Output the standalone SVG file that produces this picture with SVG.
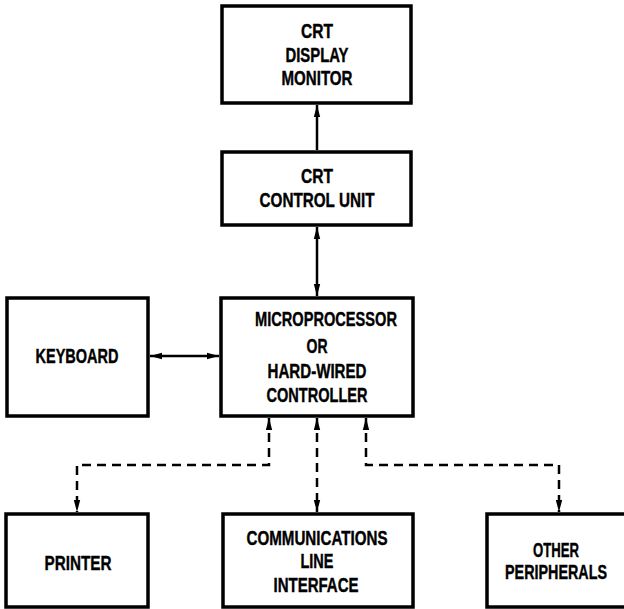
<svg xmlns="http://www.w3.org/2000/svg" width="624" height="609" viewBox="0 0 624 609">
<defs>
<style>
.box{fill:#fff;stroke:#000;stroke-width:3.5}
.t{font-family:"Liberation Sans Narrow","Liberation Sans",Arial,sans-serif;font-weight:bold;font-size:20px;fill:#000;stroke:#000;stroke-width:0.4;text-anchor:middle}
.ln{fill:none;stroke:#000;stroke-width:2.5}
.dash{fill:none;stroke:#000;stroke-width:2.5;stroke-dasharray:9 6}
</style>
<marker id="ah" viewBox="0 0 12 8" refX="12" refY="4" markerWidth="12" markerHeight="8" markerUnits="userSpaceOnUse" orient="auto-start-reverse">
<path d="M0,0.8 L12,4 L0,7.2 Z" fill="#000"/>
</marker>
</defs>
<rect width="624" height="609" fill="#fff"/>
<g id="crt-monitor">
<rect class="box" x="222" y="6" width="189" height="97"/>
<text class="t" x="317" y="38" textLength="32" lengthAdjust="spacingAndGlyphs">CRT</text>
<text class="t" x="317" y="62" textLength="63" lengthAdjust="spacingAndGlyphs">DISPLAY</text>
<text class="t" x="317" y="85" textLength="71" lengthAdjust="spacingAndGlyphs">MONITOR</text>
</g>
<g id="crt-control">
<rect class="box" x="222" y="152" width="189" height="73"/>
<text class="t" x="317" y="183" textLength="32" lengthAdjust="spacingAndGlyphs">CRT</text>
<text class="t" x="317" y="207" textLength="115" lengthAdjust="spacingAndGlyphs">CONTROL UNIT</text>
</g>
<g id="micro">
<rect class="box" x="221" y="298" width="192" height="118"/>
<text class="t" x="326" y="326" textLength="142" lengthAdjust="spacingAndGlyphs">MICROPROCESSOR</text>
<text class="t" x="317" y="353" textLength="21" lengthAdjust="spacingAndGlyphs">OR</text>
<text class="t" x="317" y="378" textLength="99" lengthAdjust="spacingAndGlyphs">HARD-WIRED</text>
<text class="t" x="317" y="402" textLength="101" lengthAdjust="spacingAndGlyphs">CONTROLLER</text>
</g>
<g id="keyboard">
<rect class="box" x="7" y="298" width="141" height="118"/>
<text class="t" x="77" y="363" textLength="83" lengthAdjust="spacingAndGlyphs">KEYBOARD</text>
</g>
<g id="printer">
<rect class="box" x="6" y="514" width="142" height="93"/>
<text class="t" x="78" y="570" textLength="67" lengthAdjust="spacingAndGlyphs">PRINTER</text>
</g>
<g id="comm">
<rect class="box" x="223" y="514" width="190" height="93"/>
<text class="t" x="317" y="545" textLength="141" lengthAdjust="spacingAndGlyphs">COMMUNICATIONS</text>
<text class="t" x="317" y="568" textLength="33" lengthAdjust="spacingAndGlyphs">LINE</text>
<text class="t" x="316" y="592" textLength="85" lengthAdjust="spacingAndGlyphs">INTERFACE</text>
</g>
<g id="other">
<rect class="box" x="487" y="514" width="140" height="93"/>
<text class="t" x="556" y="557" textLength="46" lengthAdjust="spacingAndGlyphs">OTHER</text>
<text class="t" x="556" y="579" textLength="102" lengthAdjust="spacingAndGlyphs">PERIPHERALS</text>
</g>
<g id="connectors">
<line class="ln" x1="317" y1="150" x2="317" y2="105" marker-end="url(#ah)"/>
<line class="ln" x1="317" y1="227" x2="317" y2="296" marker-start="url(#ah)" marker-end="url(#ah)"/>
<line class="ln" x1="150" y1="356" x2="219" y2="356" marker-start="url(#ah)" marker-end="url(#ah)"/>
<polyline class="dash" points="269,418 269,465 77,465 77,512" marker-start="url(#ah)" marker-end="url(#ah)"/>
<line class="dash" x1="317" y1="418" x2="317" y2="512" marker-start="url(#ah)" marker-end="url(#ah)"/>
<polyline class="dash" points="366,418 366,465 559,465 559,512" marker-start="url(#ah)" marker-end="url(#ah)"/>
</g>
</svg>
